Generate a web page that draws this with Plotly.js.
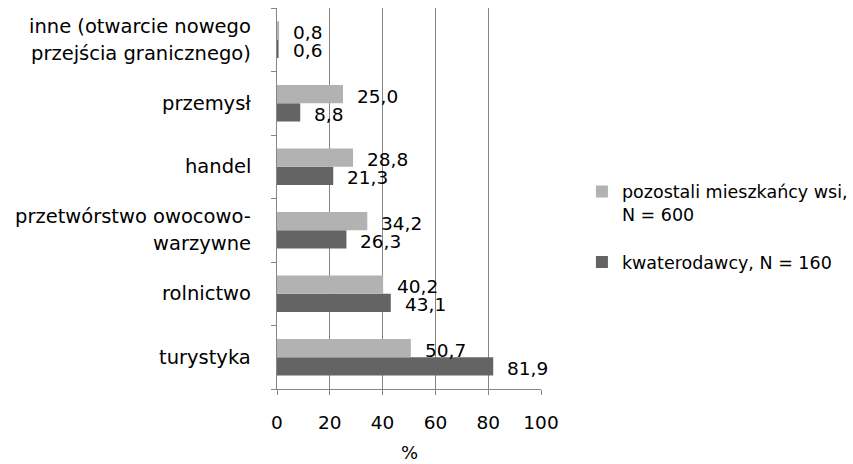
<!DOCTYPE html>
<html>
<head>
<meta charset="utf-8">
<script src="https://cdn.plot.ly/plotly-3.0.1.min.js"></script>
<style>html,body{margin:0;padding:0;background:#fff;}#chart{width:853px;height:464px;}</style>
</head>
<body>
<div id="chart"></div>
<script>
// Categories listed bottom to top
const categories = [
  'turystyka',
  'rolnictwo',
  'przetwórstwo owocowo-warzywne',
  'handel',
  'przemysł',
  'inne (otwarcie nowego przejścia granicznego)'
];
const categoryLabelLines = [
  ['turystyka'],
  ['rolnictwo'],
  ['przetwórstwo owocowo-', 'warzywne'],
  ['handel'],
  ['przemysł'],
  ['inne (otwarcie nowego', 'przejścia granicznego)']
];
const seriesNames = ['pozostali mieszkańcy wsi,<br>N = 600', 'kwaterodawcy, N = 160'];
const pozostali = [50.7, 40.2, 34.2, 28.8, 25.0, 0.8];
const kwaterodawcy = [81.9, 43.1, 26.3, 21.3, 8.8, 0.6];
const xTickValues = [0, 20, 40, 60, 80, 100];
const xTitle = '%';

const FONT = 'DejaVu Sans, sans-serif';
const TXT = '#000000';
const GRID = '#868686';

const fmt = v => v.toFixed(1).replace('.', ',');

const traces = [
  {
    type: 'bar', orientation: 'h', name: seriesNames[1], legendgroup: 'b', legendrank: 2,
    x: kwaterodawcy, y: categories,
    marker: {color: '#646464', line: {width: 0}},
    hoverinfo: 'none'
  },
  {
    type: 'bar', orientation: 'h', name: seriesNames[0], legendgroup: 'a', legendrank: 1,
    x: pozostali, y: categories,
    marker: {color: '#b2b2b2', line: {width: 0}},
    hoverinfo: 'none'
  }
];

const annotations = [];
// value labels
pozostali.forEach((v, i) => annotations.push({
  x: v, y: categories[i], xref: 'x', yref: 'y', text: fmt(v),
  showarrow: false, xanchor: 'left', yanchor: 'middle', xshift: 12, yshift: 7,
  font: {family: FONT, size: 18.5, color: TXT}
}));
kwaterodawcy.forEach((v, i) => annotations.push({
  x: v, y: categories[i], xref: 'x', yref: 'y', text: fmt(v),
  showarrow: false, xanchor: 'left', yanchor: 'middle', xshift: 12, yshift: -11,
  font: {family: FONT, size: 18.5, color: TXT}
}));
// category labels
categoryLabelLines.forEach((lines, i) => {
  const n = lines.length;
  lines.forEach((ln, j) => annotations.push({
    x: 0, xref: 'paper', y: categories[i], yref: 'y', text: ln,
    showarrow: false, xanchor: 'right', yanchor: 'middle',
    xshift: -24, yshift: ((n - 1) / 2 - j) * 27,
    align: 'center',
    font: {family: FONT, size: 19.5, color: TXT}
  }));
});
// x axis title
annotations.push({
  x: 0.5, xref: 'paper', y: 0, yref: 'paper', text: xTitle,
  showarrow: false, xanchor: 'center', yanchor: 'middle', yshift: -63,
  font: {family: FONT, size: 18, color: TXT}
});

const layout = {
  width: 853, height: 464,
  margin: {l: 277, r: 312, t: 8, b: 75, autoexpand: false},
  paper_bgcolor: '#ffffff', plot_bgcolor: '#ffffff',
  barmode: 'group', bargap: 0.425, bargroupgap: 0,
  font: {family: FONT, size: 18, color: TXT},
  showlegend: true,
  legend: {
    x: 1.155, xanchor: 'left', y: 0.565, yanchor: 'top',
    traceorder: 'grouped', tracegroupgap: 22, valign: 'top',
    font: {family: FONT, size: 17.5, color: TXT},
    bgcolor: 'rgba(0,0,0,0)'
  },
  xaxis: {
    range: [0, 100], tickvals: xTickValues, ticktext: xTickValues.map(String),
    showgrid: true, gridcolor: GRID, gridwidth: 1,
    zeroline: false, showline: true, linecolor: GRID, linewidth: 1,
    ticks: 'outside', ticklen: 5, tickcolor: GRID,
    ticklabelstandoff: 12,
    tickfont: {family: FONT, size: 18.5, color: TXT},
    fixedrange: true
  },
  yaxis: {
    type: 'category', categoryorder: 'array', categoryarray: categories,
    showgrid: false, zeroline: false, showline: true, linecolor: GRID, linewidth: 1,
    ticks: 'outside', tickson: 'boundaries', ticklen: 5, tickcolor: GRID,
    showticklabels: false, fixedrange: true
  },
  annotations: annotations
};

Plotly.newPlot('chart', traces, layout, {displayModeBar: false, staticPlot: true});
</script>
</body>
</html>
